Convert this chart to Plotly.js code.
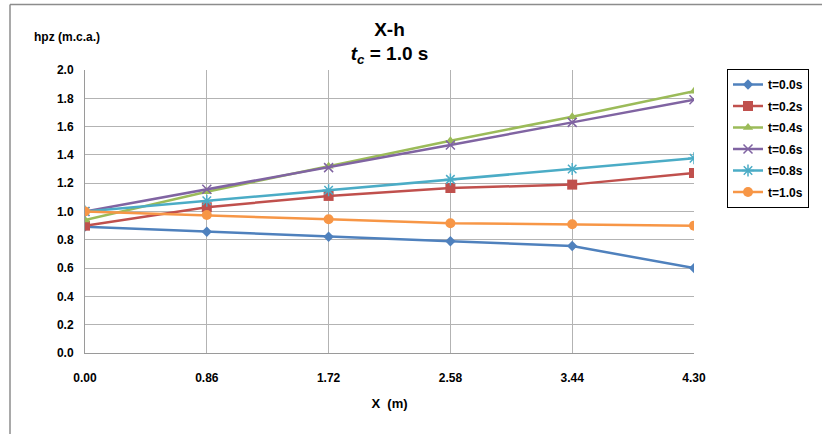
<!DOCTYPE html>
<html>
<head>
<meta charset="utf-8">
<script src="https://cdn.plot.ly/plotly-3.0.1.min.js"></script>
<style>html,body{margin:0;padding:0;background:#fff;}#chart{width:822px;height:434px;}</style>
</head>
<body>
<div id="chart"></div>
<script>
const xValues = [0.00, 0.86, 1.72, 2.58, 3.44, 4.30];
const xTickLabels = ["0.00", "0.86", "1.72", "2.58", "3.44", "4.30"];
const seriesNames = ["t=0.0s", "t=0.2s", "t=0.4s", "t=0.6s", "t=0.8s", "t=1.0s"];
const h_t00 = [0.893, 0.857, 0.822, 0.790, 0.756, 0.600];
const h_t02 = [0.900, 1.030, 1.110, 1.166, 1.190, 1.272];
const h_t04 = [0.940, 1.140, 1.320, 1.500, 1.670, 1.850];
const h_t06 = [1.000, 1.157, 1.310, 1.470, 1.630, 1.790];
const h_t08 = [1.000, 1.076, 1.150, 1.227, 1.300, 1.376];
const h_t10 = [1.000, 0.975, 0.945, 0.917, 0.910, 0.900];
const yTickVals = [0, 0.2, 0.4, 0.6, 0.8, 1.0, 1.2, 1.4, 1.6, 1.8, 2.0];

const seriesData = [h_t00, h_t02, h_t04, h_t06, h_t08, h_t10];
const colors = ["#4F81BD", "#C0504D", "#9BBB59", "#8064A2", "#4BACC6", "#F79646"];
const symbols = ["diamond", "square", "triangle-up", "x-thin-open", "asterisk-open", "circle"];
const sizes = [8, 10, 9, 9, 10, 10];

const FONT = '"Liberation Sans Narrow", "Liberation Sans", Arial, sans-serif';

const traces = seriesData.map((ys, i) => ({
  x: xValues, y: ys, name: seriesNames[i], type: 'scatter', mode: 'lines+markers',
  legendgroup: 'g' + i,
  line: {color: colors[i], width: 2.5},
  marker: {symbol: symbols[i], size: sizes[i], color: colors[i],
           line: {color: colors[i], width: (symbols[i].indexOf('open') >= 0) ? 1.5 : 0}}
}));

// plot area geometry for decorative frame (px)
const L = 85, R = 694, T = 70, B = 353;
const pw = R - L, ph = B - T;
const px = v => (v - L) / pw;
const py = v => (B - v) / ph;

const layout = {
  width: 822, height: 434,
  margin: {l: L, r: 822 - R, t: T, b: 434 - B},
  paper_bgcolor: '#ffffff', plot_bgcolor: '#ffffff',
  font: {family: FONT, size: 12, color: '#000'},
  title: {text: '<b>X-h<br><i>t</i><sub><i>c</i></sub> = 1.0 s</b>', font: {family: FONT, size: 19, color: '#000'},
          x: 0.5, xanchor: 'center', xref: 'paper', y: 0.918, yanchor: 'top'},
  xaxis: {
    range: [0, 4.30], tickvals: xValues, ticktext: xTickLabels, tickmode: 'array',
    showgrid: true, gridcolor: '#B3B3B3', gridwidth: 1,
    showline: true, linecolor: '#9A9A9A', linewidth: 1, zeroline: false,
    ticks: '', ticklabelstandoff: 14,
    tickfont: {family: FONT, size: 12, color: '#000', weight: 'bold'},
    title: {text: '<b>X  (m)</b>', font: {family: FONT, size: 13, color: '#000'}, standoff: 14}
  },
  yaxis: {
    range: [0, 2.0], tickvals: yTickVals, tickmode: 'array',
    ticktext: yTickVals.map(v => v.toFixed(1)),
    showgrid: true, gridcolor: '#B3B3B3', gridwidth: 1,
    showline: true, linecolor: '#9A9A9A', linewidth: 1, zeroline: false,
    ticks: '', ticklabelstandoff: 8,
    tickfont: {family: FONT, size: 12, color: '#000', weight: 'bold'}
  },
  legend: {
    x: px(727), y: py(69), xanchor: 'left', yanchor: 'top',
    bordercolor: '#000', borderwidth: 1, bgcolor: '#fff',
    font: {family: FONT, size: 12, color: '#000', weight: 'bold'},
    tracegroupgap: 2.5, itemwidth: 30
  },
  annotations: [{
    text: '<b>hpz (m.c.a.)</b>', xref: 'paper', yref: 'paper',
    x: px(32), y: py(37), xanchor: 'left', yanchor: 'middle', showarrow: false,
    font: {family: FONT, size: 12, color: '#000'}
  }],
  shapes: [
    {type: 'line', xref: 'paper', yref: 'paper', x0: px(10), x1: px(822), y0: py(4.5), y1: py(4.5),
     line: {color: '#8C8C8C', width: 1.5}},
    {type: 'line', xref: 'paper', yref: 'paper', x0: px(10), x1: px(10), y0: py(4.5), y1: py(434),
     line: {color: '#8C8C8C', width: 1.5}}
  ],
  showlegend: true
};

Plotly.newPlot('chart', traces, layout, {displayModeBar: false, staticPlot: true});
</script>
</body>
</html>
